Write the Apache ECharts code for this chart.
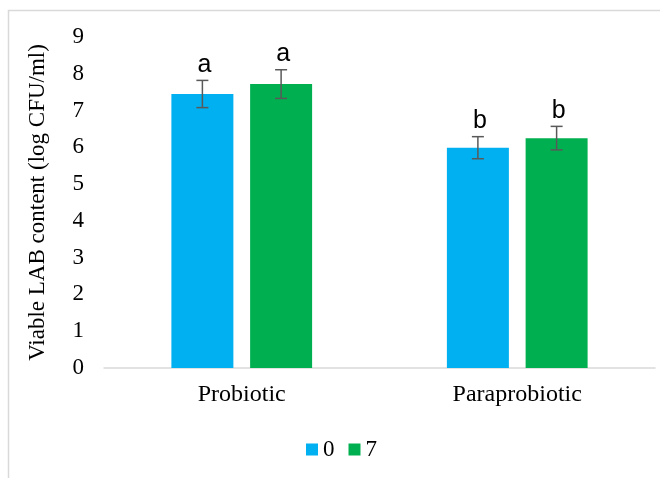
<!DOCTYPE html>
<html>
<head>
<meta charset="utf-8">
<script src="https://cdn.jsdelivr.net/npm/echarts@6/dist/echarts.min.js"></script>
<style>html,body{margin:0;padding:0;background:#fff}#c{width:660px;height:478px}</style>
</head>
<body>
<div id="c"></div>
<script>
var categories = ['Probiotic', 'Paraprobiotic'];
var seriesNames = ['0', '7'];
var day0 = [7.45, 5.99];
var day7 = [7.72, 6.25];
var err0 = [0.37, 0.30];
var err7 = [0.39, 0.32];
var letters0 = ['a', 'b'];
var letters7 = ['a', 'b'];
var yTicks = [0, 1, 2, 3, 4, 5, 6, 7, 8, 9];

var colors = ['#00B0F0', '#00B050'];
var BAR_W = 0.225, BAR_GAP = 0.27;
var SERIF = '"Liberation Serif", "Times New Roman", serif';

function errSeries(idx, vals, errs, letters) {
  var data = vals.map(function (v, i) { return [i, v, errs[i]]; });
  return {
    type: 'custom',
    name: seriesNames[idx] + '_err',
    z: 10,
    silent: true,
    data: data,
    encode: { x: 0, y: 1 },
    renderItem: function (params, api) {
      var ci = api.value(0), v = api.value(1), e = api.value(2);
      var band = api.size([1, 0])[0];
      var bw = band * BAR_W, gap = bw * BAR_GAP;
      var off = (idx === 0 ? -1 : 1) * (bw + gap) / 2;
      var c = api.coord([ci, v]);
      var hi = api.coord([ci, v + e]);
      var lo = api.coord([ci, v - e]);
      var x = c[0] + off;
      var cap = 6;
      var st = { stroke: '#595959', lineWidth: 1.5 };
      return {
        type: 'group',
        children: [
          { type: 'line', shape: { x1: x, y1: hi[1], x2: x, y2: lo[1] }, style: st },
          { type: 'line', shape: { x1: x - cap, y1: hi[1], x2: x + cap, y2: hi[1] }, style: st },
          { type: 'line', shape: { x1: x - cap, y1: lo[1], x2: x + cap, y2: lo[1] }, style: st },
          { type: 'text', x: x + 2, y: hi[1] - 3, style: { text: letters[params.dataIndex], fill: '#000', font: '25px "Liberation Sans", Arial, sans-serif', align: 'center', verticalAlign: 'bottom' } }
        ]
      };
    }
  };
}

var chart = echarts.init(document.getElementById('c'));
chart.setOption({
  animation: false,
  backgroundColor: '#fff',
  grid: { left: 104, right: 5, top: 37, bottom: 110 },
  legend: {
    data: seriesNames,
    top: 433,
    left: 301,
    itemWidth: 12, itemHeight: 12, itemGap: 14,
    icon: 'rect',
    textStyle: { fontFamily: SERIF, fontSize: 23, color: '#000', padding: [0, 0, 0, 0] }
  },
  xAxis: {
    type: 'category',
    data: categories,
    axisLine: { lineStyle: { color: '#d9d9d9', width: 1.5 } },
    axisTick: { show: false },
    axisLabel: { fontFamily: SERIF, fontSize: 24, color: '#000', margin: 15 }
  },
  yAxis: {
    type: 'value',
    min: 0, max: 9, interval: 1,
    name: 'Viable LAB content (log CFU/ml)',
    nameLocation: 'middle',
    nameGap: 55,
    nameTextStyle: { fontFamily: SERIF, fontSize: 23, color: '#000' },
    axisLine: { show: false },
    axisTick: { show: false },
    splitLine: { show: false },
    axisLabel: { fontFamily: SERIF, fontSize: 23, color: '#000', margin: 20,
      formatter: function (v) { return yTicks.indexOf(v) >= 0 ? String(v) : ''; } }
  },
  graphic: [{ type: 'rect', shape: { x: 8.5, y: 10.5, width: 700, height: 520 }, style: { fill: 'none', stroke: '#d9d9d9', lineWidth: 1.5 }, silent: true, z: -1 }],
  series: [
    { type: 'bar', name: seriesNames[0], data: day0, barWidth: (BAR_W * 100) + '%', barGap: (BAR_GAP * 100) + '%', itemStyle: { color: colors[0] } },
    { type: 'bar', name: seriesNames[1], data: day7, barWidth: (BAR_W * 100) + '%', barGap: (BAR_GAP * 100) + '%', itemStyle: { color: colors[1] } },
    errSeries(0, day0, err0, letters0),
    errSeries(1, day7, err7, letters7)
  ]
});
</script>
</body>
</html>
